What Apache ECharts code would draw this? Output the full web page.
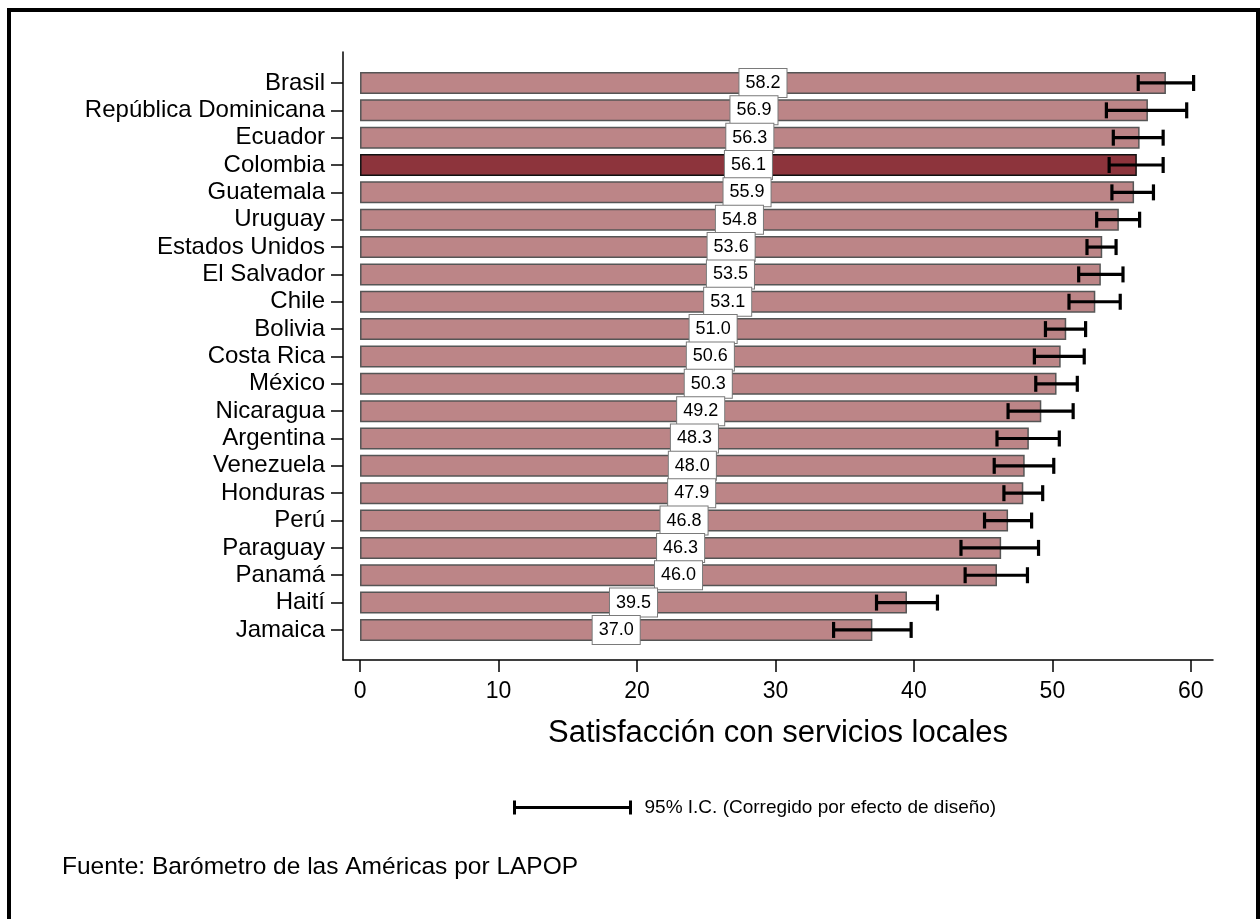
<!DOCTYPE html>
<html>
<head>
<meta charset="utf-8">
<script src="https://cdn.jsdelivr.net/npm/echarts@6/dist/echarts.min.js"></script>
<style>
  html, body { margin: 0; padding: 0; background: #fff; }
  #chart { width: 1260px; height: 919px; }
</style>
</head>
<body>
<div id="chart"></div>
<script>
// Satisfacción con servicios locales, por país (media y I.C. 95%)
const countries = ['Brasil', 'República Dominicana', 'Ecuador', 'Colombia', 'Guatemala', 'Uruguay',
  'Estados Unidos', 'El Salvador', 'Chile', 'Bolivia', 'Costa Rica', 'México', 'Nicaragua',
  'Argentina', 'Venezuela', 'Honduras', 'Perú', 'Paraguay', 'Panamá', 'Haití', 'Jamaica'];
const means  = [58.2, 56.9, 56.3, 56.1, 55.9, 54.8, 53.6, 53.5, 53.1, 51.0, 50.6, 50.3, 49.2,
  48.3, 48.0, 47.9, 46.8, 46.3, 46.0, 39.5, 37.0];
const ciLow  = [56.2, 53.9, 54.4, 54.1, 54.3, 53.2, 52.5, 51.9, 51.2, 49.5, 48.7, 48.8, 46.8,
  46.0, 45.8, 46.5, 45.1, 43.4, 43.7, 37.3, 34.2];
const ciHigh = [60.2, 59.7, 58.0, 58.0, 57.3, 56.3, 54.6, 55.1, 54.9, 52.4, 52.3, 51.8, 51.5,
  50.5, 50.1, 49.3, 48.5, 49.0, 48.2, 41.7, 39.8];
const xTicks = [0, 10, 20, 30, 40, 50, 60];
const highlighted = 'Colombia';

const FONT = '"Liberation Sans", Arial, sans-serif';
const BAR = '#bc8587';
const BAR_HI = '#8d343c';

// shared horizontal extent of the value axis
const X_MIN = -1.23;
const X_MAX = 61.6;

const barData = means.map((v, i) => ({
  value: v,
  itemStyle: countries[i] === highlighted
    ? { color: BAR_HI, borderColor: '#111', borderWidth: 1.5 }
    : { color: BAR, borderColor: '#555', borderWidth: 1.5 }
}));
const ciData = countries.map((c, i) => [ciLow[i], ciHigh[i], i]);

const chart = echarts.init(document.getElementById('chart'), null, { renderer: 'canvas' });

chart.setOption({
  animation: false,
  backgroundColor: '#fff',
  textStyle: { fontFamily: FONT },
  grid: [
    // frame grid: carries the drawn axis lines and the numeric scale
    { left: 343, top: 52, width: 870, height: 608 },
    // bar grid: category rows
    { left: 343, top: 69.3, width: 870, height: 574.3 }
  ],
  xAxis: [
    {
      gridIndex: 0, type: 'value', min: X_MIN, max: X_MAX,
      axisLine: { show: true, onZero: false, lineStyle: { color: '#000', width: 1.5 } },
      axisTick: { show: true, customValues: xTicks, length: 12, inside: false,
        lineStyle: { color: '#000', width: 1.5 } },
      axisLabel: { show: true, customValues: xTicks, fontSize: 23, color: '#000',
        fontFamily: FONT, margin: 20 },
      splitLine: { show: false },
      name: 'Satisfacción con servicios locales',
      nameLocation: 'middle', nameGap: 58,
      nameTextStyle: { fontSize: 31, color: '#000', fontFamily: FONT }
    },
    {
      gridIndex: 1, type: 'value', min: X_MIN, max: X_MAX, show: false
    }
  ],
  yAxis: [
    {
      gridIndex: 0, type: 'value', min: 0, max: 1,
      axisLine: { show: true, onZero: false, lineStyle: { color: '#000', width: 1.5 } },
      axisTick: { show: false }, axisLabel: { show: false }, splitLine: { show: false }
    },
    {
      gridIndex: 1, type: 'category', data: countries, inverse: true,
      axisLine: { show: false, onZero: false },
      axisTick: { show: true, alignWithLabel: true, interval: 0, length: 12, inside: false,
        lineStyle: { color: '#000', width: 1.5 } },
      axisLabel: { interval: 0, fontSize: 24, color: '#000', fontFamily: FONT, margin: 18 },
      splitLine: { show: false }
    }
  ],
  series: [
    {
      type: 'bar',
      xAxisIndex: 1, yAxisIndex: 1,
      data: barData,
      barWidth: 22,
      z: 2,
      label: {
        show: true,
        position: 'inside',
        formatter: p => p.value.toFixed(1),
        fontSize: 18,
        lineHeight: 20,
        color: '#000',
        fontFamily: FONT,
        backgroundColor: '#fff',
        borderColor: '#7a7a7a',
        borderWidth: 1,
        padding: [4, 6, 4, 6]
      }
    },
    {
      type: 'custom',
      xAxisIndex: 1, yAxisIndex: 1,
      data: ciData,
      encode: { x: [0, 1], y: 2 },
      z: 3,
      renderItem: function (params, api) {
        const lo = api.coord([api.value(0), api.value(2)]);
        const hi = api.coord([api.value(1), api.value(2)]);
        const h = 8;
        const style = { stroke: '#000', lineWidth: 3.2, fill: null };
        return {
          type: 'group',
          children: [
            { type: 'line', shape: { x1: lo[0], y1: lo[1], x2: hi[0], y2: hi[1] }, style },
            { type: 'line', shape: { x1: lo[0], y1: lo[1] - h, x2: lo[0], y2: lo[1] + h }, style },
            { type: 'line', shape: { x1: hi[0], y1: hi[1] - h, x2: hi[0], y2: hi[1] + h }, style }
          ]
        };
      }
    }
  ],
  graphic: [
    // outer frame
    {
      type: 'rect', z: 100, silent: true,
      shape: { x: 9, y: 10, width: 1249, height: 1000 },
      style: { fill: null, stroke: '#000', lineWidth: 4 }
    },
    // legend key for the confidence interval
    {
      type: 'group', left: 512, top: 798,
      children: [
        { type: 'line', shape: { x1: 0, y1: 7, x2: 116, y2: 7 }, style: { stroke: '#000', lineWidth: 3 } },
        { type: 'line', shape: { x1: 0, y1: 0, x2: 0, y2: 14 }, style: { stroke: '#000', lineWidth: 3 } },
        { type: 'line', shape: { x1: 116, y1: 0, x2: 116, y2: 14 }, style: { stroke: '#000', lineWidth: 3 } },
        { type: 'text', x: 130, y: 7,
          style: { text: '95% I.C. (Corregido por efecto de diseño)', fontSize: 19,
            fontFamily: FONT, fill: '#000', verticalAlign: 'middle' } }
      ]
    },
    {
      type: 'text', left: 62, top: 855,
      style: { text: 'Fuente: Barómetro de las Américas por LAPOP', fontSize: 24.5,
        fontFamily: FONT, fill: '#000' }
    }
  ]
});
</script>
</body>
</html>
